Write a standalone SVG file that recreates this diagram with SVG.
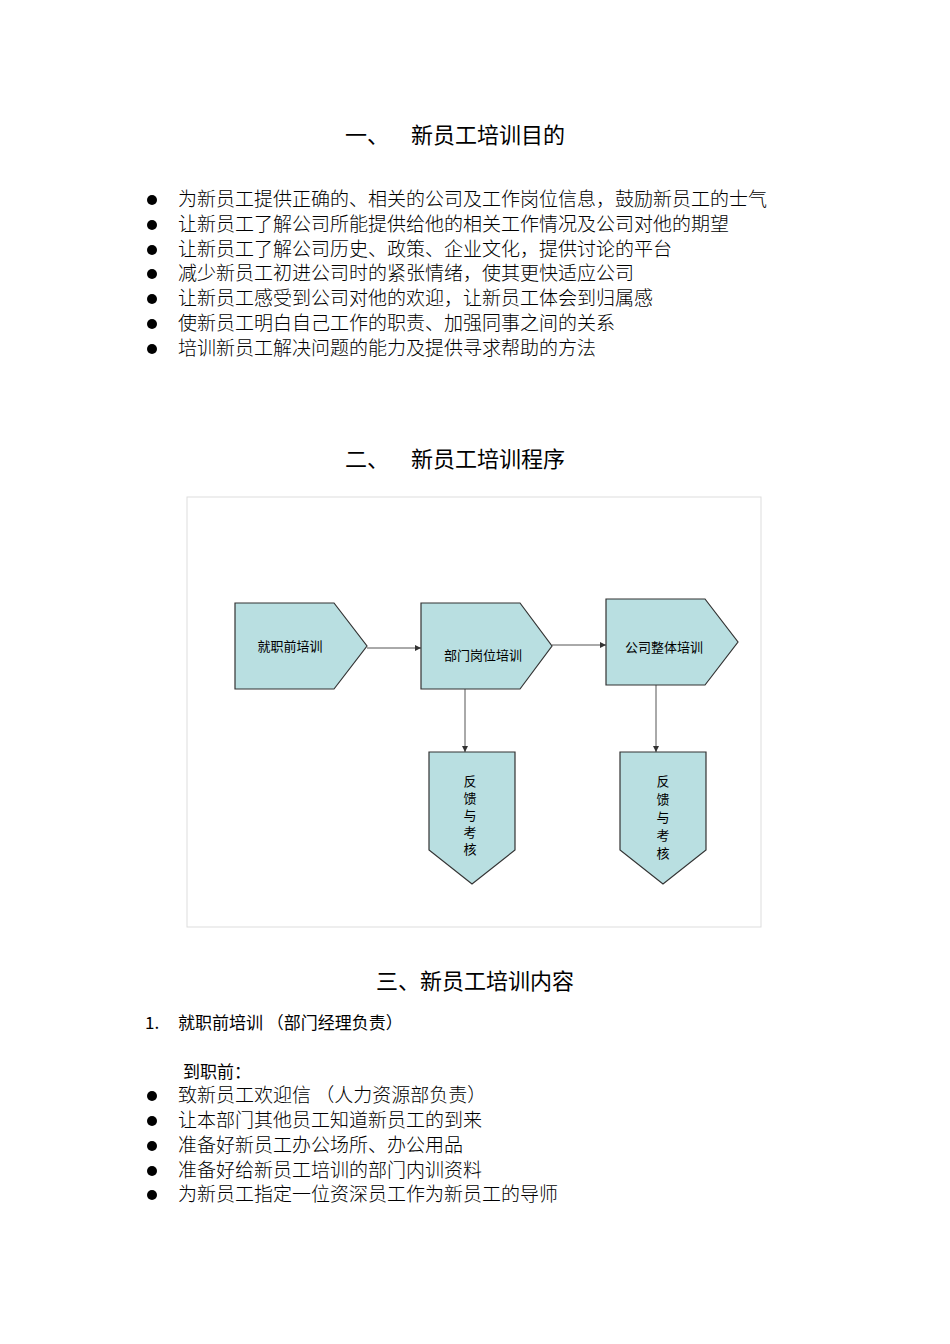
<svg xmlns="http://www.w3.org/2000/svg" width="950" height="1344" viewBox="0 0 950 1344">
<style>
text{font-family:"Noto Sans CJK SC","Liberation Sans",sans-serif;fill:#000}
.h{font-size:22px}
.b{font-size:19px;font-weight:300}
.n{fill:#b9dfe1;stroke:#333;stroke-width:1.2}
.l{font-size:13px}
.c{stroke:#555;stroke-width:1;fill:none;marker-end:url(#a)}
</style>
<defs><marker id="a" markerWidth="6" markerHeight="6" refX="6" refY="3" orient="auto"><path d="M0,0L6,3L0,6z" fill="#333"/></marker></defs>
<rect width="950" height="1344" fill="#fff"/>
<text class="h" x="345" y="143">一、</text><text class="h" x="411" y="143">新员工培训目的</text>
<circle cx="152" cy="200" r="5"/><text class="b" x="178" y="206">为新员工提供正确的、相关的公司及工作岗位信息，鼓励新员工的士气</text>
<circle cx="152" cy="225" r="5"/><text class="b" x="178" y="231">让新员工了解公司所能提供给他的相关工作情况及公司对他的期望</text>
<circle cx="152" cy="250" r="5"/><text class="b" x="178" y="256">让新员工了解公司历史、政策、企业文化，提供讨论的平台</text>
<circle cx="152" cy="274" r="5"/><text class="b" x="178" y="280">减少新员工初进公司时的紧张情绪，使其更快适应公司</text>
<circle cx="152" cy="299" r="5"/><text class="b" x="178" y="305">让新员工感受到公司对他的欢迎，让新员工体会到归属感</text>
<circle cx="152" cy="324" r="5"/><text class="b" x="178" y="330">使新员工明白自己工作的职责、加强同事之间的关系</text>
<circle cx="152" cy="349" r="5"/><text class="b" x="178" y="355">培训新员工解决问题的能力及提供寻求帮助的方法</text>
<text class="h" x="345" y="467">二、</text><text class="h" x="411" y="467">新员工培训程序</text>
<rect x="187" y="497" width="574" height="430" fill="none" stroke="#ddd"/>
<g id="connectors">
<line class="c" x1="367" y1="648" x2="421" y2="648"/>
<line class="c" x1="552" y1="645" x2="606" y2="645"/>
<line class="c" x1="465" y1="689" x2="465" y2="752"/>
<line class="c" x1="656" y1="685" x2="656" y2="752"/>
</g>
<g id="n1"><path class="n" d="M235,603H334L367,646L334,689H235Z"/><text class="l" x="290" y="651" text-anchor="middle">就职前培训</text></g>
<g id="n2"><path class="n" d="M421,603H520L552,646L520,689H421Z"/><text class="l" x="483" y="660" text-anchor="middle">部门岗位培训</text></g>
<g id="n3"><path class="n" d="M606,599H705L738,642L705,685H606Z"/><text class="l" x="664" y="652" text-anchor="middle" font-size="15">公司整体培训</text></g>
<g id="n4"><path class="n" d="M429,752H515V850L472,884L429,850Z"/>
<text class="l" x="470" y="786" text-anchor="middle">反</text><text class="l" x="470" y="803" text-anchor="middle">馈</text><text class="l" x="470" y="820" text-anchor="middle">与</text><text class="l" x="470" y="837" text-anchor="middle">考</text><text class="l" x="470" y="854" text-anchor="middle">核</text></g>
<g id="n5"><path class="n" d="M620,752H706V850L663,884L620,850Z"/>
<text class="l" x="663" y="786" text-anchor="middle" font-size="15">反</text><text class="l" x="663" y="804" text-anchor="middle" font-size="15">馈</text><text class="l" x="663" y="822" text-anchor="middle" font-size="15">与</text><text class="l" x="663" y="840" text-anchor="middle" font-size="15">考</text><text class="l" x="663" y="858" text-anchor="middle" font-size="15">核</text></g>
<text class="h" x="475" y="989" text-anchor="middle">三、新员工培训内容</text>
<text x="145" y="1029" font-size="17">1.</text><text x="178" y="1029" font-size="17">就职前培训  （部门经理负责）</text>
<text x="183" y="1078" font-size="17">到职前：</text>
<circle cx="152" cy="1096" r="5"/><text class="b" x="178" y="1102">致新员工欢迎信  （人力资源部负责）</text>
<circle cx="152" cy="1121" r="5"/><text class="b" x="178" y="1127">让本部门其他员工知道新员工的到来</text>
<circle cx="152" cy="1146" r="5"/><text class="b" x="178" y="1152">准备好新员工办公场所、办公用品</text>
<circle cx="152" cy="1171" r="5"/><text class="b" x="178" y="1177">准备好给新员工培训的部门内训资料</text>
<circle cx="152" cy="1195" r="5"/><text class="b" x="178" y="1201">为新员工指定一位资深员工作为新员工的导师</text>
</svg>
